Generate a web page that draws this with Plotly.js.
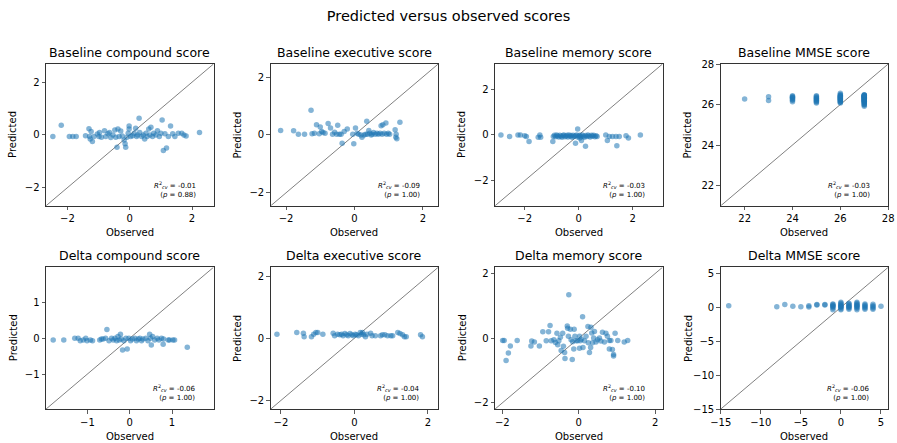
<!DOCTYPE html>
<html><head><meta charset="utf-8">
<script src="https://cdn.plot.ly/plotly-3.0.1.min.js"></script>
<style>html,body{margin:0;padding:0;background:#fff}#chart{width:897px;height:443px}</style>
</head><body><div id="chart"></div>
<script>
// ---- Data ----
var panelTitles = ["Baseline compound score","Baseline executive score","Baseline memory score","Baseline MMSE score",
                   "Delta compound score","Delta executive score","Delta memory score","Delta MMSE score"];
var r2Values = ["-0.01","-0.09","-0.03","-0.03","-0.06","-0.04","-0.10","-0.06"];
var pValues  = ["0.88","1.00","1.00","1.00","1.00","1.00","1.00","1.00"];

var bcObs  = [-2.47,-2.20,-1.94,-1.83,-1.72,-1.42,-1.31,-1.29,-1.27,-1.24,-1.20,-1.15,-1.04,-0.99,-0.97,-0.91,-0.81,-0.77,-0.70,-0.65,-0.61,-0.54,-0.48,-0.45,-0.41,-0.38,-0.34,-0.29,-0.24,-0.18,-0.15,-0.13,-0.09,-0.05,-0.02,-0.02,0.03,0.09,0.14,0.19,0.22,0.25,0.30,0.32,0.38,0.43,0.48,0.52,0.56,0.61,0.65,0.68,0.73,0.77,0.84,0.89,0.95,1.00,1.04,1.08,1.13,1.18,1.24,1.31,1.38,1.45,1.56,1.67,1.74,1.81,2.24];
var bcPred = [-0.06,0.37,-0.06,-0.06,-0.06,-0.03,0.23,-0.06,-0.16,0.13,-0.25,-0.06,0.03,-0.06,0.09,-0.09,0.16,-0.06,0.04,0.09,-0.10,0.00,0.19,-0.09,-0.47,0.22,-0.06,0.15,-0.04,-0.19,-0.34,-0.47,-0.09,0.06,0.34,0.22,-0.06,-0.03,0.06,0.25,-0.06,0.00,0.63,0.09,-0.06,0.00,-0.16,0.06,-0.06,0.22,0.00,0.29,-0.06,0.06,0.00,0.16,-0.06,0.06,0.57,-0.59,0.04,-0.50,-0.06,0.34,0.04,-0.06,0.06,0.06,0.00,-0.04,0.09];

var beObs  = [-2.16,-1.78,-1.64,-1.46,-1.27,-1.24,-1.17,-1.11,-1.03,-1.00,-0.96,-0.92,-0.86,-0.77,-0.70,-0.64,-0.58,-0.52,-0.49,-0.44,-0.39,-0.36,-0.30,-0.21,-0.05,-0.02,0.03,0.08,0.12,0.19,0.22,0.28,0.33,0.36,0.38,0.42,0.45,0.49,0.52,0.56,0.61,0.66,0.70,0.75,0.78,0.81,0.83,0.87,0.92,0.94,0.99,1.03,1.19,1.22,1.24,1.21,1.33];
var bePred = [0.15,0.14,0.02,0.02,0.85,0.04,0.06,0.35,0.04,0.27,0.12,0.08,0.06,0.39,0.24,0.02,0.09,0.02,0.33,0.02,0.02,-0.29,0.12,0.20,0.02,-0.31,0.24,0.06,0.02,0.00,-0.08,0.00,0.02,0.47,0.02,0.15,0.06,0.00,0.02,0.08,0.02,0.06,0.02,0.06,0.32,0.02,0.35,0.06,0.41,0.02,0.06,0.02,0.18,0.02,-0.13,-0.08,0.44];

var bmObs  = [-2.88,-2.56,-2.25,-2.16,-2.00,-1.94,-1.84,-1.50,-1.44,-1.41,-0.96,-0.94,-0.90,-0.86,-0.82,-0.78,-0.74,-0.70,-0.66,-0.62,-0.58,-0.55,-0.51,-0.47,-0.43,-0.40,-0.36,-0.32,-0.28,-0.25,-0.21,-0.17,-0.12,-0.08,-0.04,0.00,0.04,0.08,0.13,0.17,0.21,0.25,0.30,0.34,0.38,0.42,0.47,0.51,0.55,0.60,0.64,0.68,-0.04,0.04,-0.12,0.25,0.10,1.00,1.06,1.13,1.25,1.38,1.41,1.50,1.75,1.84,2.28];
var bmPred = [0.00,-0.07,0.00,0.00,-0.04,-0.07,-0.29,-0.10,0.00,-0.10,-0.29,-0.07,-0.02,-0.08,0.00,-0.05,-0.09,-0.01,-0.06,-0.10,-0.03,0.00,-0.08,-0.05,-0.02,-0.09,0.00,-0.06,-0.03,-0.10,-0.01,-0.07,-0.04,0.00,-0.09,-0.05,-0.02,-0.08,0.00,-0.06,-0.10,-0.03,-0.07,0.00,-0.05,-0.09,-0.02,-0.06,-0.01,-0.08,-0.04,-0.07,0.26,-0.14,-0.36,-0.50,-0.25,0.00,-0.24,-0.07,-0.07,-0.07,-0.47,-0.07,-0.04,-0.14,0.00];

var bxObs  = [22,23,23,24,24,24,24,24,24,24,24,25,25,25,25,25,25,25,25,25,25,
              26,26,26,26,26,26,26,26,26,26,26,26,26,26,26,26,26,26,
              27,27,27,27,27,27,27,27,27,27,27,27,27,27,27,27,27,27,27,27,27,27,27,27,27,27,27,27,27,27];
var bxPred = [26.27,26.20,26.38,26.14,26.21,26.25,26.31,26.33,26.36,26.40,26.43,26.08,26.13,26.16,26.21,26.24,26.29,26.31,26.35,26.40,26.43,
              26.08,26.11,26.14,26.18,26.20,26.23,26.25,26.28,26.30,26.32,26.35,26.37,26.38,26.41,26.43,26.46,26.50,26.56,
              25.91,25.97,26.00,26.04,26.08,26.10,26.12,26.15,26.16,26.18,26.20,26.22,26.23,26.25,26.27,26.28,26.30,26.31,26.33,26.35,26.36,26.38,26.39,26.40,26.42,26.43,26.44,26.46,26.47,26.48];

var dcObs  = [-1.81,-1.56,-1.30,-1.22,-1.17,-1.10,-1.04,-1.01,-0.93,-0.88,-0.71,-0.67,-0.63,-0.57,-0.54,-0.49,-0.43,-0.39,-0.35,-0.31,-0.28,-0.25,-0.22,-0.20,-0.17,-0.14,-0.09,-0.06,-0.02,0.02,0.06,0.12,0.16,0.20,0.24,0.28,0.31,0.38,0.43,0.47,0.49,0.51,0.54,0.59,0.65,0.69,0.75,0.79,0.80,0.91,0.94,1.02,1.06,1.36];
var dcPred = [-0.05,-0.05,0.00,0.00,-0.07,-0.05,0.00,-0.07,-0.05,-0.07,-0.05,-0.02,-0.02,0.00,0.24,-0.07,0.00,-0.05,0.00,-0.07,0.05,-0.05,0.11,-0.02,-0.33,-0.07,0.00,-0.30,0.00,-0.07,-0.02,0.00,-0.07,-0.02,0.00,-0.07,-0.02,0.00,-0.07,0.11,0.00,-0.19,0.05,-0.05,0.00,-0.05,0.00,-0.17,-0.02,-0.05,-0.05,-0.05,-0.05,-0.25];

var deObs  = [-2.11,-1.57,-1.39,-1.37,-1.17,-1.11,-1.05,-1.00,-0.86,-0.58,-0.54,-0.46,-0.40,-0.35,-0.31,-0.26,-0.21,-0.17,-0.12,-0.07,-0.03,0.02,0.06,0.11,0.16,0.19,0.22,0.25,0.30,0.34,0.44,0.48,0.57,0.71,0.76,0.83,0.90,0.99,1.04,1.18,1.24,1.31,1.36,1.41,1.85,1.80];
var dePred = [0.13,0.18,0.16,0.05,0.05,0.13,0.18,0.18,0.13,0.16,0.08,0.13,0.11,0.13,0.08,0.15,0.11,0.08,0.15,0.11,0.08,0.13,0.11,0.08,0.18,0.13,0.18,0.11,0.05,0.13,0.16,0.08,0.08,0.08,0.11,0.11,0.08,0.08,0.08,0.18,0.15,0.11,0.05,0.05,0.05,0.11];

var dmObs  = [-1.99,-1.95,-1.79,-1.84,-1.90,-1.61,-1.25,-1.23,-1.16,-1.03,-0.94,-0.85,-0.79,-0.75,-0.72,-0.65,-0.61,-0.57,-0.55,-0.52,-0.48,-0.46,-0.42,-0.40,-0.37,-0.36,-0.30,-0.29,-0.27,-0.22,-0.20,-0.17,-0.16,-0.12,-0.13,-0.10,-0.07,-0.03,0.02,0.02,0.04,0.07,0.10,0.11,0.15,0.19,0.24,0.25,0.28,0.31,0.32,0.34,0.36,0.39,0.41,0.45,0.49,0.54,0.58,0.62,0.67,0.71,0.75,0.80,0.84,0.80,0.88,0.91,0.91,0.95,1.02,1.19,1.28,-0.26];
var dmPred = [-0.07,-0.07,-0.24,-0.46,-0.69,-0.07,-0.24,-0.09,-0.12,-0.24,0.20,-0.08,0.20,0.39,-0.08,-0.05,-0.13,0.15,-0.20,-0.08,0.03,-0.38,0.15,-0.25,-0.44,-0.63,0.38,0.31,0.06,0.28,-0.05,-0.66,-0.11,0.28,-0.33,0.06,-0.08,-0.08,-0.31,0.06,-0.08,-0.03,0.66,-0.29,-0.08,0.06,0.36,-0.14,-0.44,-0.29,0.34,0.16,-0.14,0.01,0.21,-0.12,-0.05,0.01,-0.09,0.18,-0.12,0.15,0.06,-0.07,-0.07,-0.33,-0.35,-0.50,-0.55,0.15,-0.07,-0.12,-0.07,1.34];

var dxObs  = [-14,-8,-7,-6,-5,-4,-4,-3,-3,-2,-2,
              -1,-1,-1,-1,-1,-1,-1, 0,0,0,0,0,0,0,0,0,0, 1,1,1,1,1,1,1,1,
              2,2,2,2,2,2,2,2,2, 3,3,3,3,3,3, 4,4,4,4,4, 5];
var dxPred = [0.25,0.10,0.40,0.15,0.10,0.05,0.25,0.40,0.35,0.35,0.40,
              -0.35,-0.10,0.10,0.25,0.40,0.50,0.20, -0.35,-0.20,0.00,0.15,0.30,0.45,0.60,0.75,0.05,0.20, -0.30,-0.10,0.05,0.20,0.35,0.50,0.60,0.10,
              -0.35,-0.15,0.00,0.15,0.30,0.45,0.60,0.75,0.25, -0.30,-0.10,0.05,0.20,0.35,0.50, -0.30,-0.10,0.10,0.25,0.45, 0.15];

var panelObs  = [bcObs, beObs, bmObs, bxObs, dcObs, deObs, dmObs, dxObs];
var panelPred = [bcPred, bePred, bmPred, bxPred, dcPred, dePred, dmPred, dxPred];
var panelRanges = [[-2.69,2.69],[-2.45,2.45],[-3.1,3.1],[21,28],[-1.98,1.98],[-2.28,2.28],[-2.19,2.19],[-15,5.9]];
var panelDtick = [2,2,2,2,1,2,2,5];

// ---- Layout geometry (pixels) ----
var W = 897, H = 443;
var colLeft = [46, 270.7, 495, 720.7], axW = 167.5;
var rowTop = [64, 267.3], axH = 141.8;

var traces = [], layout = {
  width: W, height: H, margin: {l:0,r:0,t:0,b:0}, showlegend: false,
  paper_bgcolor: '#fff', plot_bgcolor: '#fff',
  font: {family: 'DejaVu Sans, sans-serif', color: '#000', size: 10},
  title: {text: 'Predicted versus observed scores', x: 0.5, xanchor: 'center', y: 1 - 16/H, yanchor: 'middle',
          font: {size: 14.5, color: '#000', family: 'DejaVu Sans, sans-serif'}},
  annotations: []
};

for (var i = 0; i < 8; i++) {
  var row = Math.floor(i / 4), col = i % 4;
  var n = i + 1, xa = 'x' + (n === 1 ? '' : n), ya = 'y' + (n === 1 ? '' : n);
  var xk = 'xaxis' + (n === 1 ? '' : n), yk = 'yaxis' + (n === 1 ? '' : n);
  var rng = panelRanges[i];
  var axCommon = {
    range: rng.slice(), dtick: panelDtick[i], tick0: 0, showgrid: false, zeroline: false,
    showline: true, mirror: true, linecolor: '#333', linewidth: 1,
    ticks: 'outside', ticklen: 3.5, tickwidth: 0.8, tickcolor: '#333',
    tickfont: {size: 10, color: '#000'}, fixedrange: true
  };
  layout[xk] = Object.assign({}, axCommon, {anchor: ya,
    domain: [colLeft[col] / W, (colLeft[col] + axW) / W]});
  layout[yk] = Object.assign({}, axCommon, {anchor: xa,
    domain: [1 - (rowTop[row] + axH) / H, 1 - rowTop[row] / H]});

  // identity line
  traces.push({x: rng.slice(), y: rng.slice(), xaxis: xa, yaxis: ya, mode: 'lines',
               line: {color: '#808080', width: 1}, hoverinfo: 'skip'});
  // points
  traces.push({x: panelObs[i], y: panelPred[i], xaxis: xa, yaxis: ya, mode: 'markers', type: 'scatter',
               marker: {color: '#1f77b4', size: 5.5, opacity: 0.55, line: {width: 0}}});

  // subplot title
  layout.annotations.push({text: panelTitles[i], xref: xa + ' domain', yref: ya + ' domain',
    x: 0.5, y: 1, xanchor: 'center', yanchor: 'bottom', yshift: 2, showarrow: false,
    font: {size: 12.5, color: '#000'}});
  // axis labels
  layout.annotations.push({text: 'Observed', xref: xa + ' domain', yref: 'paper',
    x: 0.5, y: 1 - (rowTop[row] + axH + 27) / H, xanchor: 'center', yanchor: 'middle', showarrow: false,
    font: {size: 10, color: '#000'}});
  layout.annotations.push({text: 'Predicted', xref: 'paper', yref: ya + ' domain',
    x: (colLeft[col] - 33) / W, y: 0.5, xanchor: 'center', yanchor: 'middle', textangle: -90, showarrow: false,
    font: {size: 10, color: '#000'}});
  // stats
  layout.annotations.push({text: '<i>R</i><sup>2</sup><sub><i>cv</i></sub> = ' + r2Values[i] + '<br>(<i>p</i> = ' + pValues[i] + ')',
    xref: xa + ' domain', yref: ya + ' domain', x: 0.905, y: 0.035, xanchor: 'right', yanchor: 'bottom',
    align: 'right', showarrow: false, font: {size: 7, color: '#000'}});
}

Plotly.newPlot('chart', traces, layout, {displayModeBar: false, staticPlot: true});
</script></body></html>
